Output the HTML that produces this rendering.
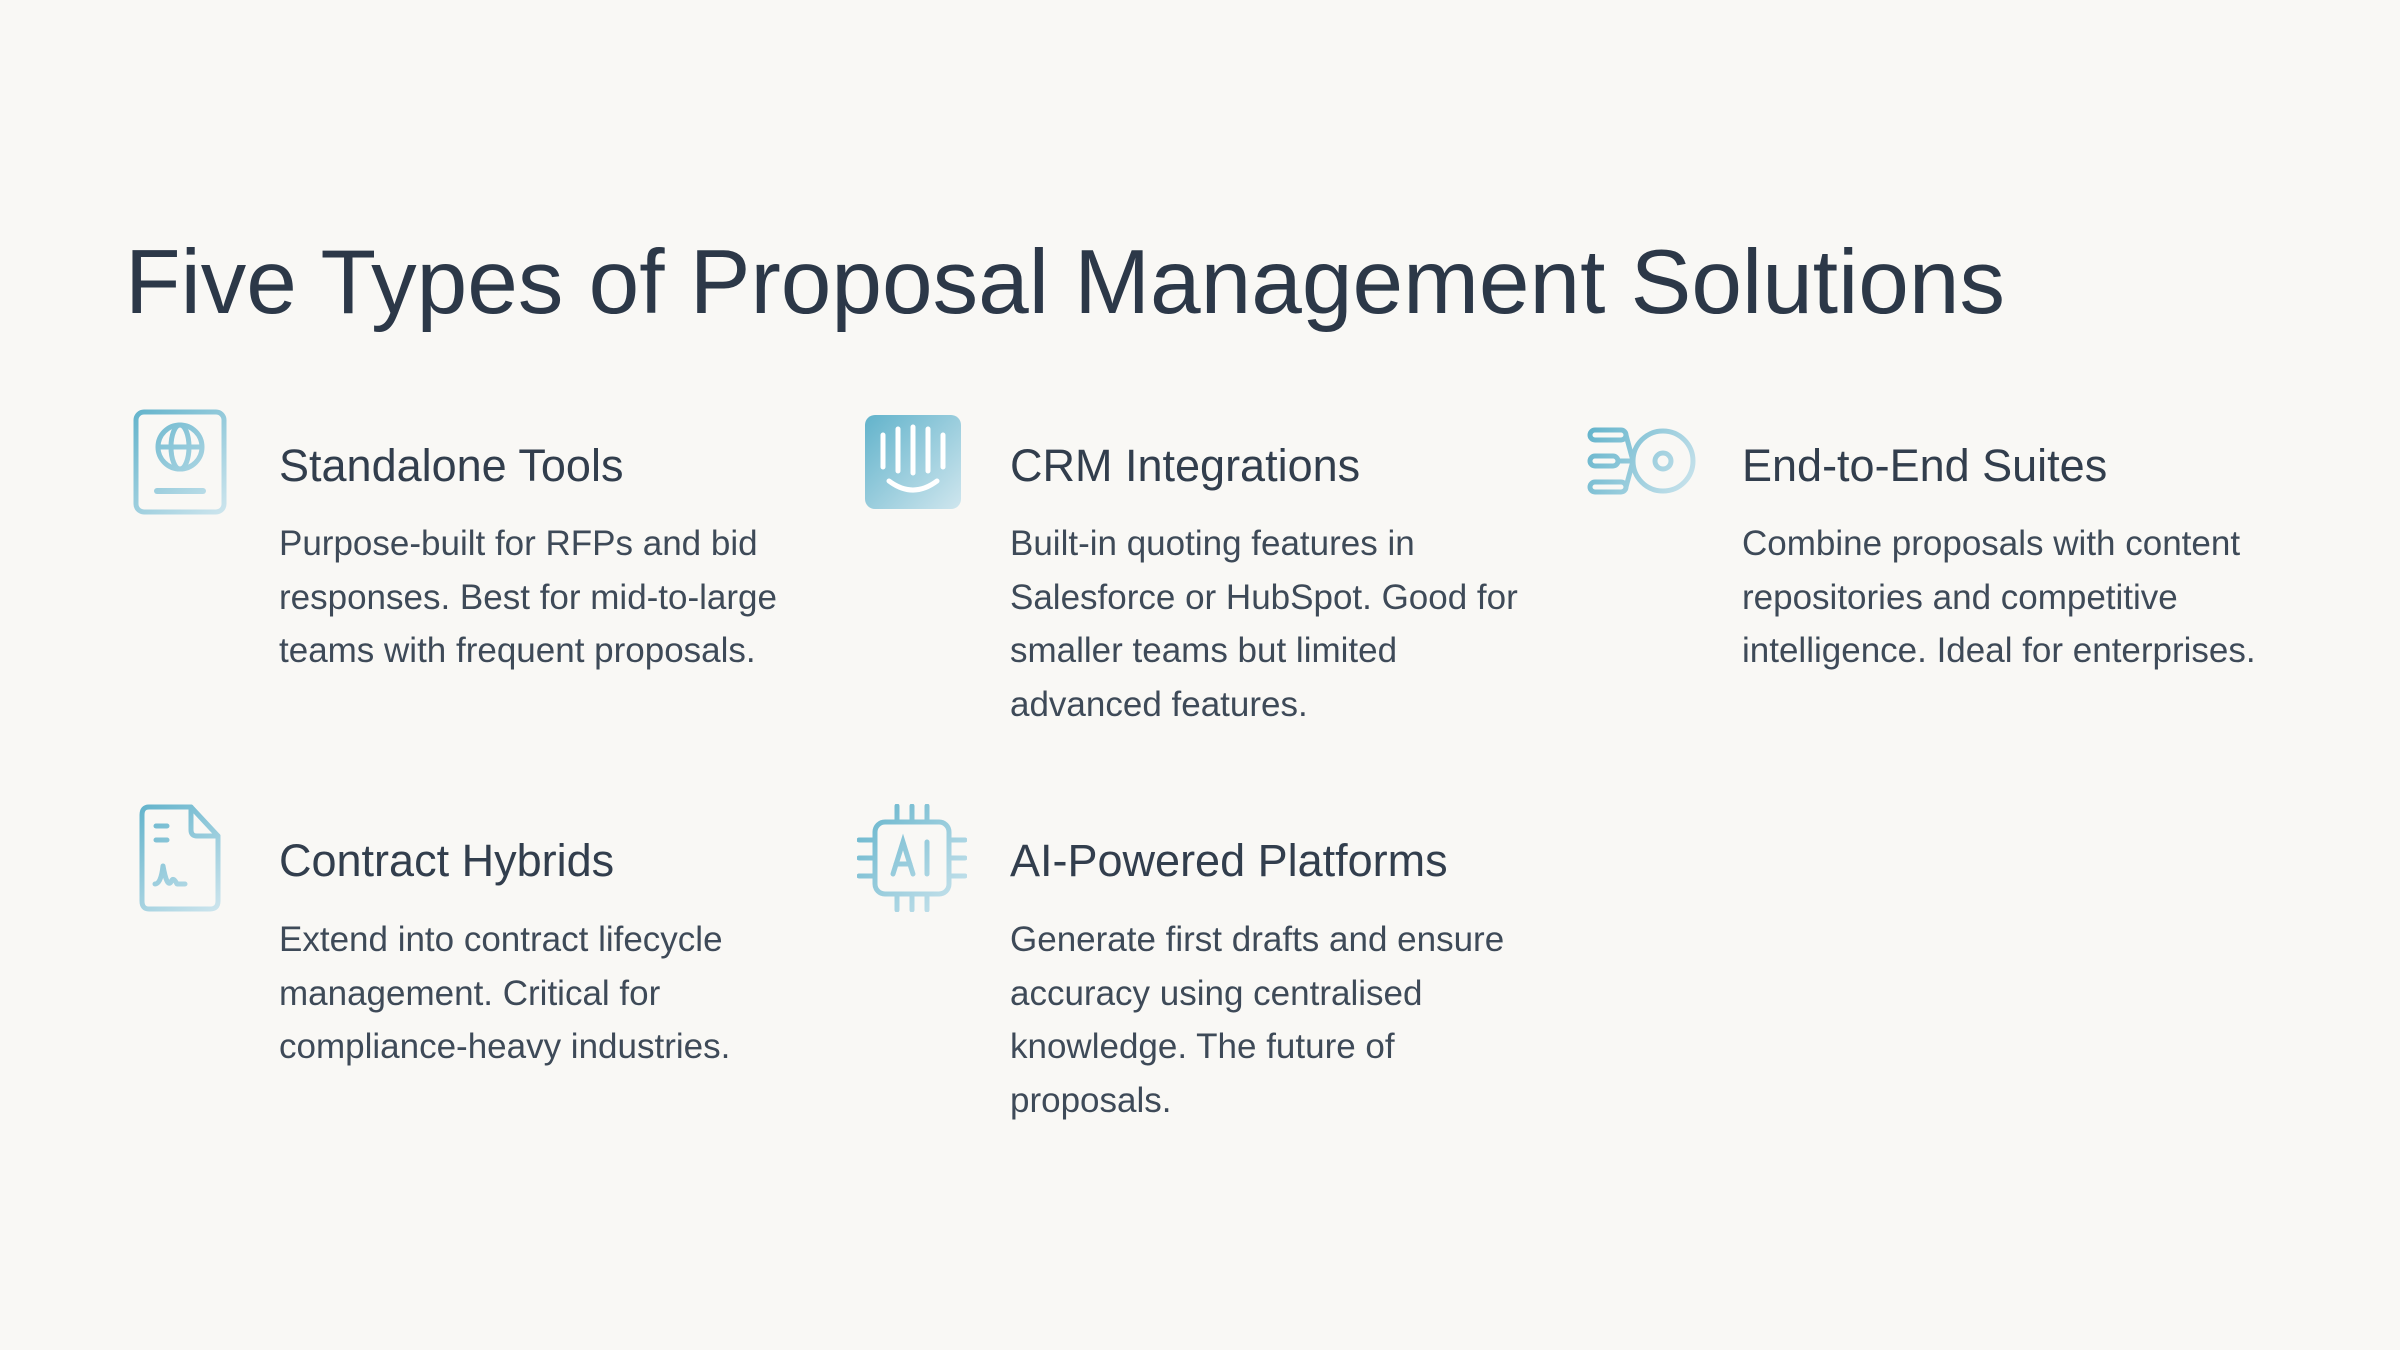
<!DOCTYPE html>
<html><head><meta charset="utf-8"><style>
body{margin:0;width:2400px;height:1350px;background:#f9f8f5;font-family:"Liberation Sans",sans-serif;position:relative;overflow:hidden;color:#2f3b4b}
.t{position:absolute;left:125px;top:228px;font-size:91px;line-height:110px;white-space:nowrap;color:#2c3848}
.h{position:absolute;font-size:45px;line-height:52px;white-space:nowrap;color:#323e4d}
.b{position:absolute;font-size:35px;line-height:53.6px;color:#3e4a58;width:525px}
svg{position:absolute}
</style></head><body>
<div class="t">Five Types of Proposal Management Solutions</div>

<svg style="left:133px;top:409px" width="94" height="106" viewBox="0 0 94 106"><defs><linearGradient id="g1" gradientUnits="userSpaceOnUse" x1="0" y1="0" x2="94" y2="106"><stop offset="0" stop-color="#62b3cb"/><stop offset="1" stop-color="#cfe6ee"/></linearGradient></defs><g fill="none" stroke="url(#g1)" stroke-width="5"><rect x="3" y="3" width="88" height="100" rx="8"/><circle cx="47" cy="38" r="22"/><ellipse cx="47" cy="38" rx="9" ry="22"/><line x1="25" y1="38" x2="69" y2="38"/><line x1="24" y1="82" x2="70" y2="82" stroke-width="6" stroke-linecap="round"/></g></svg>
<div class="h" style="left:279px;top:440px">Standalone Tools</div>
<div class="b" style="left:279px;top:517px">Purpose-built for RFPs and bid responses. Best for mid-to-large teams with frequent proposals.</div>

<svg style="left:865px;top:415px" width="96" height="94" viewBox="0 0 96 94"><defs><linearGradient id="g2" gradientUnits="userSpaceOnUse" x1="0" y1="0" x2="96" y2="94"><stop offset="0" stop-color="#62b3cb"/><stop offset="1" stop-color="#cfe6ee"/></linearGradient></defs><rect x="0" y="0" width="96" height="94" rx="10" fill="url(#g2)"/><g stroke="#fff" stroke-width="5" stroke-linecap="round" fill="none"><line x1="18" y1="20" x2="18" y2="52"/><line x1="33" y1="14" x2="33" y2="56"/><line x1="48" y1="12" x2="48" y2="58"/><line x1="63" y1="14" x2="63" y2="56"/><line x1="78" y1="20" x2="78" y2="52"/><path d="M24 66 Q48 84 72 66"/></g></svg>
<div class="h" style="left:1010px;top:440px">CRM Integrations</div>
<div class="b" style="left:1010px;top:517px">Built-in quoting features in Salesforce or HubSpot. Good for smaller teams but limited advanced features.</div>

<svg style="left:1587px;top:427px" width="110" height="68" viewBox="0 0 110 68"><defs><linearGradient id="g3" gradientUnits="userSpaceOnUse" x1="0" y1="0" x2="110" y2="68"><stop offset="0" stop-color="#62b3cb"/><stop offset="1" stop-color="#cfe6ee"/></linearGradient></defs><g fill="none" stroke="url(#g3)" stroke-width="5"><circle cx="76" cy="34" r="30"/><circle cx="76" cy="34" r="8"/><rect x="3" y="3" width="36" height="10" rx="5"/><rect x="3" y="29" width="28" height="10" rx="5"/><rect x="3" y="55" width="36" height="10" rx="5"/><line x1="39" y1="8" x2="46" y2="34"/><line x1="39" y1="60" x2="46" y2="34"/><line x1="31" y1="34" x2="46" y2="34"/></g></svg>
<div class="h" style="left:1742px;top:440px">End-to-End Suites</div>
<div class="b" style="left:1742px;top:517px">Combine proposals with content repositories and competitive intelligence. Ideal for enterprises.</div>

<svg style="left:139px;top:804px" width="82" height="108" viewBox="0 0 82 108"><defs><linearGradient id="g4" gradientUnits="userSpaceOnUse" x1="0" y1="0" x2="82" y2="108"><stop offset="0" stop-color="#62b3cb"/><stop offset="1" stop-color="#cfe6ee"/></linearGradient></defs><g fill="none" stroke="url(#g4)" stroke-width="5" stroke-linejoin="round" stroke-linecap="round"><path d="M10 3 H52 L79 32 V97 Q79 105 71 105 H10 Q3 105 3 97 V11 Q3 3 10 3Z"/><path d="M52 3 V26 Q52 32 58 32 H79"/><line x1="17" y1="22" x2="28" y2="22"/><line x1="17" y1="36" x2="28" y2="36"/><path d="M16 80 Q22 80 24 62 Q28 84 32 78 Q34 72 38 80 H46"/></g></svg>
<div class="h" style="left:279px;top:835px">Contract Hybrids</div>
<div class="b" style="left:279px;top:913px">Extend into contract lifecycle management. Critical for compliance-heavy industries.</div>

<svg style="left:857px;top:804px" width="110" height="108" viewBox="0 0 110 108"><defs><linearGradient id="g5" gradientUnits="userSpaceOnUse" x1="0" y1="0" x2="110" y2="108"><stop offset="0" stop-color="#62b3cb"/><stop offset="1" stop-color="#cfe6ee"/></linearGradient></defs><g fill="none" stroke="url(#g5)" stroke-width="5" stroke-linecap="round"><rect x="18" y="18" width="74" height="72" rx="10"/><line x1="40" y1="2" x2="40" y2="16"/><line x1="55" y1="2" x2="55" y2="16"/><line x1="70" y1="2" x2="70" y2="16"/><line x1="40" y1="92" x2="40" y2="106"/><line x1="55" y1="92" x2="55" y2="106"/><line x1="70" y1="92" x2="70" y2="106"/><line x1="2" y1="36" x2="16" y2="36"/><line x1="2" y1="54" x2="16" y2="54"/><line x1="2" y1="72" x2="16" y2="72"/><line x1="94" y1="36" x2="108" y2="36"/><line x1="94" y1="54" x2="108" y2="54"/><line x1="94" y1="72" x2="108" y2="72"/><path d="M36 70 L46 38 L56 70 M39 60 H53"/><line x1="70" y1="38" x2="70" y2="70"/></g></svg>
<div class="h" style="left:1010px;top:835px">AI-Powered Platforms</div>
<div class="b" style="left:1010px;top:913px">Generate first drafts and ensure accuracy using centralised knowledge. The future of proposals.</div>
</body></html>
